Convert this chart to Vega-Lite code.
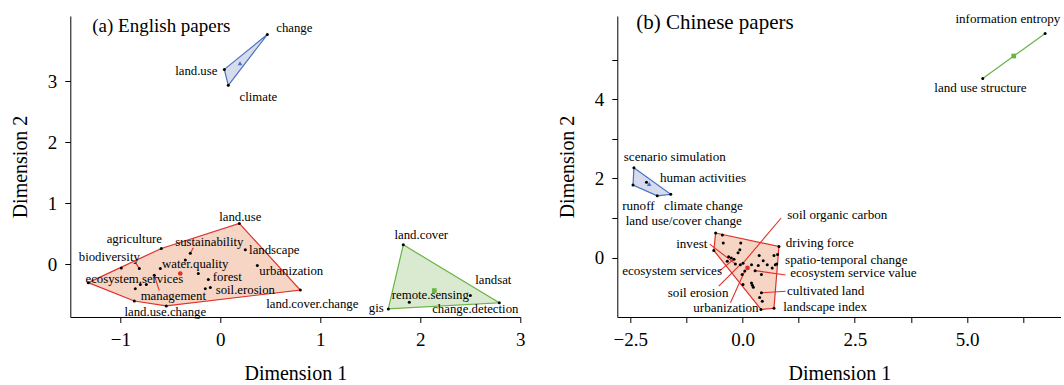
{
  "$schema": "https://vega.github.io/schema/vega-lite/v6.json",
  "usermeta": {"embedOptions": {"actions": false}},
  "background": "white",
  "padding": {"left": 10.3, "top": 12, "right": 0, "bottom": 0},
  "bounds": "flush",
  "spacing": 97,
  "config": {
    "view": {"stroke": null},
    "axis": {
      "domainColor": "black", "tickColor": "black", "labelColor": "black", "titleColor": "black",
      "labelFont": "Liberation Serif", "titleFont": "Liberation Serif",
      "labelFontSize": 19, "titleFontSize": 20, "titleFontWeight": "normal",
      "grid": false, "tickSize": 5.5, "labelPadding": 8, "domainWidth": 1, "tickWidth": 1,
      "labelFlush": false, "labelOverlap": false
    },
    "axisX": {"titlePadding": 14},
    "axisY": {"titlePadding": 17}
  },
  "datasets": {
    "pa_pts": [
      {"x": -1.32, "y": -0.30}, {"x": -0.99, "y": -0.06}, {"x": -0.81, "y": -0.07}, {"x": -0.59, "y": 0.26},
      {"x": -0.60, "y": -0.07}, {"x": -0.85, "y": -0.40}, {"x": -0.80, "y": -0.33}, {"x": -0.74, "y": -0.33},
      {"x": -0.66, "y": -0.18}, {"x": -0.86, "y": -0.60}, {"x": -0.54, "y": -0.68}, {"x": -0.30, "y": 0.18},
      {"x": -0.35, "y": 0.07}, {"x": -0.22, "y": -0.15}, {"x": -0.12, "y": -0.25}, {"x": -0.15, "y": -0.40},
      {"x": -0.10, "y": -0.38}, {"x": 0.19, "y": 0.67}, {"x": 0.25, "y": 0.24}, {"x": 0.37, "y": -0.02},
      {"x": 0.80, "y": -0.42},
      {"x": 0.47, "y": 3.76}, {"x": 0.04, "y": 3.19}, {"x": 0.08, "y": 2.93},
      {"x": 1.83, "y": 0.32}, {"x": 2.50, "y": -0.51}, {"x": 1.68, "y": -0.73}, {"x": 1.89, "y": -0.62}, {"x": 2.79, "y": -0.63}
    ],
    "pa_cent": [
      {"c": 1, "x": -0.40, "y": -0.15}, {"c": 2, "x": 0.197, "y": 3.29}, {"c": 3, "x": 2.14, "y": -0.43}
    ],
    "pa_hull": [
      {"c": 1, "i": 1, "x": -1.32, "y": -0.30}, {"c": 1, "i": 2, "x": -0.59, "y": 0.26}, {"c": 1, "i": 3, "x": 0.19, "y": 0.67},
      {"c": 1, "i": 4, "x": 0.80, "y": -0.42}, {"c": 1, "i": 5, "x": -0.54, "y": -0.68}, {"c": 1, "i": 6, "x": -0.86, "y": -0.60},
      {"c": 1, "i": 7, "x": -1.32, "y": -0.30},
      {"c": 2, "i": 1, "x": 0.47, "y": 3.76}, {"c": 2, "i": 2, "x": 0.04, "y": 3.19}, {"c": 2, "i": 3, "x": 0.08, "y": 2.93}, {"c": 2, "i": 4, "x": 0.47, "y": 3.76},
      {"c": 3, "i": 1, "x": 1.83, "y": 0.32}, {"c": 3, "i": 2, "x": 2.79, "y": -0.63}, {"c": 3, "i": 3, "x": 1.68, "y": -0.73}, {"c": 3, "i": 4, "x": 1.83, "y": 0.32}
    ],
    "pa_lab": [
      {"label": "change", "lx": 0.74, "ly": 3.87},
      {"label": "land.use", "lx": -0.24, "ly": 3.16},
      {"label": "climate", "lx": 0.38, "ly": 2.74},
      {"label": "land.use", "lx": 0.20, "ly": 0.78},
      {"label": "agriculture", "lx": -0.86, "ly": 0.42},
      {"label": "sustainability", "lx": -0.11, "ly": 0.37, "px": -0.30, "py": 0.18, "ex": -0.27, "ey": 0.27},
      {"label": "landscape", "lx": 0.54, "ly": 0.23},
      {"label": "biodiversity", "lx": -1.11, "ly": 0.12, "px": -0.81, "py": -0.07, "ex": -0.86, "ey": 0.06},
      {"label": "water.quality", "lx": -0.25, "ly": 0.01},
      {"label": "urbanization", "lx": 0.71, "ly": -0.11},
      {"label": "ecosystem.services", "lx": -0.86, "ly": -0.24},
      {"label": "forest", "lx": 0.07, "ly": -0.21},
      {"label": "soil.erosion", "lx": 0.25, "ly": -0.42},
      {"label": "management", "lx": -0.47, "ly": -0.52, "px": -0.66, "py": -0.18, "ex": -0.61, "ey": -0.43},
      {"label": "land.use.change", "lx": -0.55, "ly": -0.78},
      {"label": "land.cover.change", "lx": 0.92, "ly": -0.65},
      {"label": "land.cover", "lx": 2.01, "ly": 0.48},
      {"label": "landsat", "lx": 2.73, "ly": -0.26},
      {"label": "remote.sensing", "lx": 2.10, "ly": -0.51},
      {"label": "gis", "lx": 1.56, "ly": -0.72},
      {"label": "change.detection", "lx": 2.55, "ly": -0.73}
    ],
    "pb_pts": [
      {"x": -0.60, "y": 0.62}, {"x": -0.45, "y": 0.57}, {"x": -0.43, "y": 0.37}, {"x": -0.64, "y": 0.18},
      {"x": -0.04, "y": 0.37}, {"x": -0.06, "y": 0.20}, {"x": -0.10, "y": 0.12}, {"x": -0.31, "y": 0.02},
      {"x": -0.25, "y": -0.01}, {"x": -0.19, "y": -0.04}, {"x": -0.34, "y": -0.09}, {"x": -0.16, "y": -0.16},
      {"x": -0.05, "y": -0.18}, {"x": 0.01, "y": -0.14}, {"x": 0.05, "y": -0.34}, {"x": -0.01, "y": -0.43},
      {"x": 0.20, "y": -0.18}, {"x": 0.37, "y": 0.05}, {"x": 0.46, "y": -0.08}, {"x": 0.78, "y": 0.08},
      {"x": 0.70, "y": 0.05}, {"x": 0.81, "y": 0.28}, {"x": 0.35, "y": -0.20}, {"x": 0.55, "y": -0.18},
      {"x": 0.66, "y": -0.26}, {"x": 0.73, "y": -0.18}, {"x": 0.76, "y": -0.16}, {"x": 0.42, "y": -0.43},
      {"x": 0.28, "y": -0.33}, {"x": 0.01, "y": -0.68}, {"x": 0.20, "y": -0.64}, {"x": 0.22, "y": -0.70},
      {"x": 0.24, "y": -0.75}, {"x": 0.42, "y": -0.89}, {"x": 0.38, "y": -1.01}, {"x": 0.44, "y": -1.10},
      {"x": 0.70, "y": -1.28}, {"x": 0.41, "y": -1.31},
      {"x": -2.42, "y": 2.27}, {"x": -2.44, "y": 1.83}, {"x": -1.90, "y": 1.56}, {"x": -1.60, "y": 1.60}, {"x": -2.14, "y": 1.90},
      {"x": 6.74, "y": 5.66}, {"x": 5.35, "y": 4.52}
    ],
    "pb_cent": [
      {"c": 1, "x": 0.11, "y": -0.26}, {"c": 2, "x": -2.08, "y": 1.86}, {"c": 3, "x": 6.04, "y": 5.09}
    ],
    "pb_hull": [
      {"c": 1, "i": 1, "x": -0.60, "y": 0.62}, {"c": 1, "i": 2, "x": 0.81, "y": 0.28}, {"c": 1, "i": 3, "x": 0.70, "y": -1.28},
      {"c": 1, "i": 4, "x": 0.41, "y": -1.31}, {"c": 1, "i": 5, "x": -0.64, "y": 0.18}, {"c": 1, "i": 6, "x": -0.60, "y": 0.62},
      {"c": 2, "i": 1, "x": -2.42, "y": 2.27}, {"c": 2, "i": 2, "x": -1.60, "y": 1.60}, {"c": 2, "i": 3, "x": -1.90, "y": 1.56},
      {"c": 2, "i": 4, "x": -2.44, "y": 1.83}, {"c": 2, "i": 5, "x": -2.42, "y": 2.27},
      {"c": 3, "i": 1, "x": 5.35, "y": 4.52}, {"c": 3, "i": 2, "x": 6.74, "y": 5.66}
    ],
    "pb_lab": [
      {"label": "information entropy", "lx": 5.91, "ly": 6.02},
      {"label": "land use structure", "lx": 5.30, "ly": 4.29},
      {"label": "scenario simulation", "lx": -1.51, "ly": 2.55},
      {"label": "human activities", "lx": -0.88, "ly": 2.02},
      {"label": "runoff", "lx": -2.32, "ly": 1.31},
      {"label": "climate change", "lx": -0.87, "ly": 1.31},
      {"label": "land use/cover change", "lx": -1.31, "ly": 0.93},
      {"label": "soil organic carbon", "lx": 2.11, "ly": 1.07, "px": 0.01, "py": -0.14, "ex": 0.86, "ey": 1.00},
      {"label": "driving force", "lx": 1.72, "ly": 0.38},
      {"label": "invest", "lx": -1.13, "ly": 0.34, "px": -0.16, "py": -0.16, "ex": -0.73, "ey": 0.34},
      {"label": "spatio-temporal change", "lx": 2.31, "ly": -0.06},
      {"label": "ecosystem services", "lx": -1.57, "ly": -0.34, "px": -0.19, "py": -0.04, "ex": -0.54, "ey": -0.36},
      {"label": "ecosystem service value", "lx": 2.47, "ly": -0.40, "px": 0.28, "py": -0.33, "ex": 0.96, "ey": -0.44},
      {"label": "soil erosion", "lx": -0.99, "ly": -0.89, "px": -0.05, "py": -0.18, "ex": -0.53, "ey": -0.72},
      {"label": "cultivated land", "lx": 1.85, "ly": -0.84, "px": 0.42, "py": -0.89, "ex": 0.96, "ey": -0.85},
      {"label": "landscape index", "lx": 1.84, "ly": -1.25},
      {"label": "urbanization", "lx": -0.37, "ly": -1.28, "px": 0.05, "py": -0.34, "ex": -0.27, "ey": -1.14}
    ]
  },
  "hconcat": [
    {
      "width": 450, "height": 301,
      "title": {"text": "(a) English papers", "anchor": "start", "frame": "group", "dx": 22, "offset": -20,
                "font": "Liberation Serif", "fontSize": 19, "fontWeight": "normal", "color": "black"},
      "layer": [
        {
          "data": {"name": "pa_hull"}, "transform": [{"filter": "datum.c == 1"}],
          "mark": {"type": "line", "fill": "#f6d5c4", "stroke": "#e0302a", "strokeWidth": 1.2},
          "encoding": {
            "x": {"field": "x", "type": "quantitative",
                  "scale": {"domain": [-1.5, 3.0], "nice": false, "zero": false},
                  "axis": {"title": "Dimension 1", "values": [-1, -0.5, 0, 0.5, 1, 1.5, 2, 2.5, 3], "format": "d",
                           "labelExpr": "datum.value % 1 === 0 ? datum.label : ''"}},
            "y": {"field": "y", "type": "quantitative",
                  "scale": {"domain": [-0.862, 4.064], "nice": false, "zero": false},
                  "axis": {"title": "Dimension 2", "values": [0, 0.5, 1, 1.5, 2, 2.5, 3, 3.5], "format": "d",
                           "labelExpr": "datum.value % 1 === 0 ? datum.label : ''"}},
            "order": {"field": "i", "type": "quantitative"}
          }
        },
        {
          "data": {"name": "pa_hull"}, "transform": [{"filter": "datum.c == 2"}],
          "mark": {"type": "line", "fill": "#d6dbee", "stroke": "#4a72c2", "strokeWidth": 1.2},
          "encoding": {"x": {"field": "x", "type": "quantitative"}, "y": {"field": "y", "type": "quantitative"}, "order": {"field": "i", "type": "quantitative"}}
        },
        {
          "data": {"name": "pa_hull"}, "transform": [{"filter": "datum.c == 3"}],
          "mark": {"type": "line", "fill": "#d9ead0", "stroke": "#6ab344", "strokeWidth": 1.2},
          "encoding": {"x": {"field": "x", "type": "quantitative"}, "y": {"field": "y", "type": "quantitative"}, "order": {"field": "i", "type": "quantitative"}}
        },
        {
          "data": {"name": "pa_lab"}, "transform": [{"filter": "isValid(datum.ex)"}],
          "mark": {"type": "rule", "stroke": "#e0302a", "strokeWidth": 1.1},
          "encoding": {"x": {"field": "px", "type": "quantitative"}, "y": {"field": "py", "type": "quantitative"},
                       "x2": {"field": "ex"}, "y2": {"field": "ey"}}
        },
        {
          "data": {"name": "pa_pts"},
          "mark": {"type": "circle", "color": "black", "size": 9, "opacity": 1},
          "encoding": {"x": {"field": "x", "type": "quantitative"}, "y": {"field": "y", "type": "quantitative"}}
        },
        {
          "data": {"name": "pa_cent"},
          "mark": {"type": "point", "filled": true, "opacity": 1, "size": 22},
          "encoding": {
            "x": {"field": "x", "type": "quantitative"}, "y": {"field": "y", "type": "quantitative"},
            "shape": {"field": "c", "type": "nominal", "scale": {"domain": [1, 2, 3], "range": ["circle", "triangle-up", "square"]}, "legend": null},
            "color": {"field": "c", "type": "nominal", "scale": {"domain": [1, 2, 3], "range": ["#e0302a", "#4a72c2", "#6ab344"]}, "legend": null}
          }
        },
        {
          "data": {"name": "pa_lab"},
          "mark": {"type": "text", "align": "center", "baseline": "middle", "font": "Liberation Serif", "fontSize": 12.8, "color": "black"},
          "encoding": {"x": {"field": "lx", "type": "quantitative"}, "y": {"field": "ly", "type": "quantitative"}, "text": {"field": "label"}}
        }
      ]
    },
    {
      "width": 444, "height": 301,
      "title": {"text": "(b) Chinese papers", "anchor": "start", "frame": "group", "dx": 19, "offset": -20,
                "font": "Liberation Serif", "fontSize": 21, "fontWeight": "normal", "color": "black"},
      "layer": [
        {
          "data": {"name": "pb_hull"}, "transform": [{"filter": "datum.c == 1"}],
          "mark": {"type": "line", "fill": "#f6d5c4", "stroke": "#e0302a", "strokeWidth": 1.2},
          "encoding": {
            "x": {"field": "x", "type": "quantitative",
                  "scale": {"domain": [-2.79, 7.1], "nice": false, "zero": false},
                  "axis": {"title": "Dimension 1", "values": [-2.5, -1.25, 0, 1.25, 2.5, 3.75, 5, 6.25], "format": ".1f",
                           "labelExpr": "datum.value % 2.5 === 0 ? datum.label : ''"}},
            "y": {"field": "y", "type": "quantitative",
                  "scale": {"domain": [-1.5, 6.1], "nice": false, "zero": false},
                  "axis": {"title": "Dimension 2", "values": [0, 1, 2, 3, 4, 5], "format": "d",
                           "labelExpr": "datum.value % 2 === 0 ? datum.label : ''"}},
            "order": {"field": "i", "type": "quantitative"}
          }
        },
        {
          "data": {"name": "pb_hull"}, "transform": [{"filter": "datum.c == 2"}],
          "mark": {"type": "line", "fill": "#d6dbee", "stroke": "#4a72c2", "strokeWidth": 1.2},
          "encoding": {"x": {"field": "x", "type": "quantitative"}, "y": {"field": "y", "type": "quantitative"}, "order": {"field": "i", "type": "quantitative"}}
        },
        {
          "data": {"name": "pb_hull"}, "transform": [{"filter": "datum.c == 3"}],
          "mark": {"type": "line", "stroke": "#6ab344", "strokeWidth": 1.2},
          "encoding": {"x": {"field": "x", "type": "quantitative"}, "y": {"field": "y", "type": "quantitative"}, "order": {"field": "i", "type": "quantitative"}}
        },
        {
          "data": {"name": "pb_lab"}, "transform": [{"filter": "isValid(datum.ex)"}],
          "mark": {"type": "rule", "stroke": "#e0302a", "strokeWidth": 1.1},
          "encoding": {"x": {"field": "px", "type": "quantitative"}, "y": {"field": "py", "type": "quantitative"},
                       "x2": {"field": "ex"}, "y2": {"field": "ey"}}
        },
        {
          "data": {"name": "pb_pts"},
          "mark": {"type": "circle", "color": "black", "size": 9, "opacity": 1},
          "encoding": {"x": {"field": "x", "type": "quantitative"}, "y": {"field": "y", "type": "quantitative"}}
        },
        {
          "data": {"name": "pb_cent"},
          "mark": {"type": "point", "filled": true, "opacity": 1, "size": 22},
          "encoding": {
            "x": {"field": "x", "type": "quantitative"}, "y": {"field": "y", "type": "quantitative"},
            "shape": {"field": "c", "type": "nominal", "scale": {"domain": [1, 2, 3], "range": ["circle", "triangle-up", "square"]}, "legend": null},
            "color": {"field": "c", "type": "nominal", "scale": {"domain": [1, 2, 3], "range": ["#e0302a", "#4a72c2", "#6ab344"]}, "legend": null}
          }
        },
        {
          "data": {"name": "pb_lab"},
          "mark": {"type": "text", "align": "center", "baseline": "middle", "font": "Liberation Serif", "fontSize": 13.1, "color": "black"},
          "encoding": {"x": {"field": "lx", "type": "quantitative"}, "y": {"field": "ly", "type": "quantitative"}, "text": {"field": "label"}}
        }
      ]
    }
  ]
}
